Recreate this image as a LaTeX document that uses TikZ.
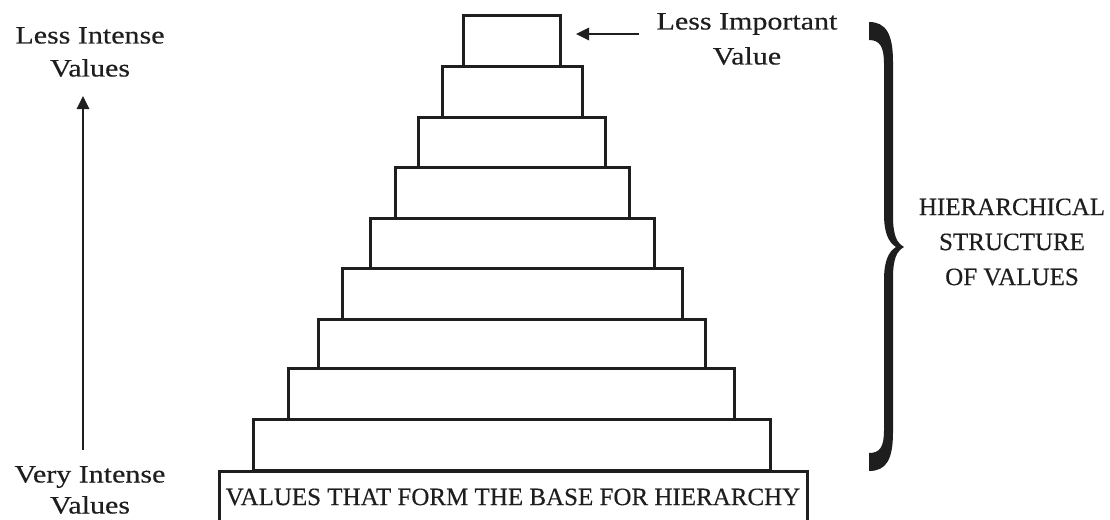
\documentclass[tikz,border=0pt]{standalone}
\usepackage{fontspec}
\setmainfont[FakeBold=0.35]{Liberation Serif}
\newfontfamily\widefont[FakeStretch=1.2,FakeBold=0.35]{Liberation Serif}
\usetikzlibrary{arrows.meta}
\definecolor{ink}{HTML}{1E1E1E}
\begin{document}
\begin{tikzpicture}[x=1pt,y=-1pt,
  layer/.style={draw=ink,line width=3pt,rectangle,inner sep=0pt,fill=white},
  lbl/.style={text=ink,align=center,inner sep=0pt},
  wlbl/.style={lbl,font=\widefont\fontsize{25}{33}\selectfont},
  clbl/.style={lbl,font=\fontsize{25}{35}\selectfont},
  arr/.style={draw=ink,line width=2.6pt,-{Triangle[length=13pt,width=12pt]}}]
\clip (0,0) rectangle (1110,519);
\fill[white] (0,0) rectangle (1110,519);

% pyramid layers: left, right, top, bottom
\foreach \n/\l/\r/\t/\b in {l9/253/770/419/470, l8/288/734/368/419,
    l7/318/705/319/368, l6/342/682/268/319, l5/370/654/218/268,
    l4/395/629/167/218, l3/418/605/117/167, l2/442/582/66/117,
    l1/463/560/16/66}
  \node[layer,minimum width={\r-\l},minimum height={\b-\t}]
    (\n) at ({(\l+\r)/2},{(\t+\b)/2}) {};

% base of the hierarchy
\node[layer,minimum width=588,minimum height=62,anchor=north west]
  (base) at (218,470) {};
\node[clbl] (basetxt) at (513,497)
  {VALUES THAT FORM THE BASE FOR HIERARCHY};

% intensity axis
\node[wlbl] (less) at (90,52) {Less Intense\\Values};
\node[wlbl,font=\widefont\fontsize{25}{31}\selectfont] (very) at (90,490)
  {Very Intense\\Values};
\coordinate (axbot) at (83,450);
\coordinate (axtop) at (83,96);
\draw[arr] (axbot) -- (axtop);

% pointer to the top value
\node[wlbl,font=\widefont\fontsize{25}{35}\selectfont] (imp) at (747,39)
  {Less Important\\Value};
\coordinate (ptrstart) at (639,34);
\coordinate (ptrend) at (576,34);
\draw[arr] (ptrstart) -- (ptrend);

% brace spanning the stacked layers, filled as a calligraphic outline
\fill[ink]
  (869,22) .. controls (886,22) and (893,34) .. (893,62)
  -- (893,216) .. controls (893,236) and (897,243) .. (904,247)
  .. controls (897,251) and (893,258) .. (893,278)
  -- (893,432) .. controls (893,460) and (886,471) .. (869,471)
  -- (869,453) .. controls (880,453) and (884,447) .. (884,430)
  -- (884,280) .. controls (884,262) and (888,252) .. (896,247)
  .. controls (888,242) and (884,232) .. (884,214)
  -- (884,64) .. controls (884,47) and (880,40) .. (869,40) -- cycle;
\node[clbl] (struct) at (1012,242) {HIERARCHICAL\\STRUCTURE\\OF VALUES};
\end{tikzpicture}
\end{document}
